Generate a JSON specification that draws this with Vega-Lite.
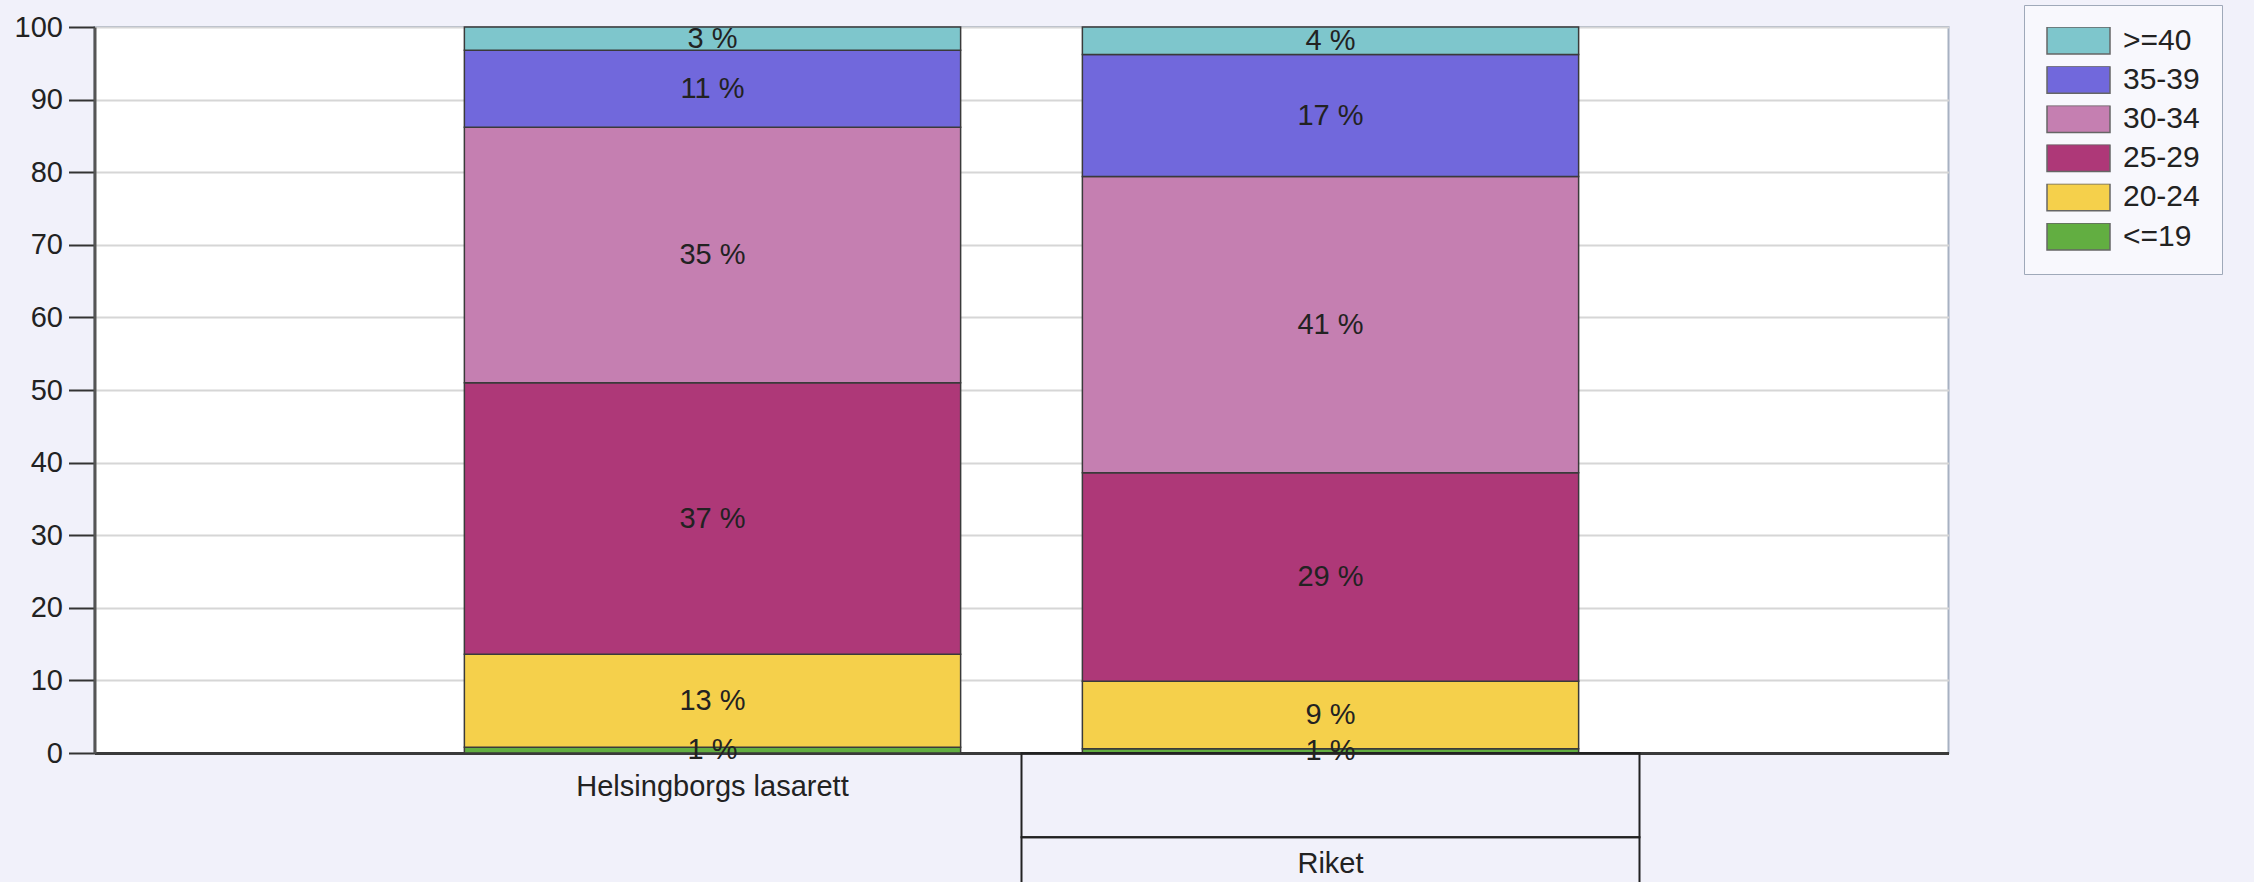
{
  "$schema": "https://vega.github.io/schema/vega-lite/v6.json",
  "width": 1854,
  "height": 726,
  "autosize": {"type": "none"},
  "padding": {"left": 94.5, "top": 27, "right": 305.5, "bottom": 129},
  "background": "#f1f1fa",
  "config": {
    "font": "Liberation Sans",
    "view": {"fill": "white", "stroke": "#a7b1c2", "strokeWidth": 2}
  },
  "data": {
    "values": [
      {"site": "Helsingborgs lasarett", "age": "<=19", "k": 0, "pct": 0.8},
      {"site": "Helsingborgs lasarett", "age": "20-24", "k": 1, "pct": 12.8},
      {"site": "Helsingborgs lasarett", "age": "25-29", "k": 2, "pct": 37.4},
      {"site": "Helsingborgs lasarett", "age": "30-34", "k": 3, "pct": 35.2},
      {"site": "Helsingborgs lasarett", "age": "35-39", "k": 4, "pct": 10.6},
      {"site": "Helsingborgs lasarett", "age": ">=40", "k": 5, "pct": 3.2},
      {"site": "Riket", "age": "<=19", "k": 0, "pct": 0.6},
      {"site": "Riket", "age": "20-24", "k": 1, "pct": 9.3},
      {"site": "Riket", "age": "25-29", "k": 2, "pct": 28.7},
      {"site": "Riket", "age": "30-34", "k": 3, "pct": 40.8},
      {"site": "Riket", "age": "35-39", "k": 4, "pct": 16.8},
      {"site": "Riket", "age": ">=40", "k": 5, "pct": 3.8}
    ]
  },
  "layer": [
    {
      "mark": {"type": "bar", "width": {"band": 0.803}, "stroke": "#3a3a3a", "strokeWidth": 1.5},
      "encoding": {
        "x": {
          "field": "site", "type": "nominal", "sort": ["Helsingborgs lasarett", "Riket"],
          "scale": {"paddingInner": 0, "paddingOuter": 0.5},
          "axis": {
            "title": null, "ticks": false, "grid": false, "domain": true,
            "domainColor": "#3a3a3a", "domainWidth": 3, "labelLimit": 1000,
            "labelFontSize": 29, "labelColor": "#222", "labelAngle": 0, "labelBaseline": "top",
            "labelPadding": {"condition": {"test": "datum.value === 'Riket'", "value": 96}, "value": 19}
          }
        },
        "y": {
          "field": "pct", "type": "quantitative", "stack": "zero",
          "scale": {"domain": [0, 100], "nice": false},
          "axis": {
            "title": null, "values": [0, 10, 20, 30, 40, 50, 60, 70, 80, 90, 100],
            "tickSize": 26, "tickColor": "#333", "tickWidth": 2,
            "domainColor": "#555", "domainWidth": 3,
            "labelFontSize": 29, "labelColor": "#222", "labelPadding": 6,
            "grid": true, "gridColor": "#d6d6d6", "gridWidth": 2
          }
        },
        "color": {
          "field": "age", "type": "nominal",
          "scale": {
            "domain": [">=40", "35-39", "30-34", "25-29", "20-24", "<=19"],
            "range": ["#7ec6cc", "#7168dc", "#c57fb1", "#ae3878", "#f5d04b", "#62ae41"]
          },
          "legend": {
            "title": null, "orient": "none", "legendX": 1929.5, "legendY": -22,
            "padding": 22,
            "symbolType": "M-1,-0.4286L1,-0.4286L1,0.4286L-1,0.4286Z",
            "symbolSize": 3969, "symbolStrokeColor": "#666", "symbolStrokeWidth": 1.5,
            "symbolOpacity": 1, "clipHeight": 27,
            "labelFontSize": 30, "labelColor": "#222", "labelOffset": 12,
            "rowPadding": 8.2,
            "strokeColor": "#9fa9b9", "fillColor": "#f8f8fd"
          }
        },
        "order": {"field": "k", "type": "quantitative"}
      }
    },
    {
      "mark": {"type": "text", "fontSize": 29, "color": "#222", "text": {"expr": "format(datum.pct, 'd') + ' %'"}},
      "encoding": {
        "x": {"field": "site", "type": "nominal", "sort": ["Helsingborgs lasarett", "Riket"]},
        "y": {"field": "pct", "type": "quantitative", "stack": "zero", "bandPosition": 0.5},
        "detail": {"field": "age"},
        "order": {"field": "k", "type": "quantitative"}
      }
    },
    {
      "transform": [{"filter": "datum.site === 'Riket' && datum.k === 0"}],
      "mark": {"type": "bar", "width": {"band": 1}, "fill": null, "fillOpacity": 0, "stroke": "#222", "strokeWidth": 2},
      "encoding": {
        "x": {"field": "site", "type": "nominal", "sort": ["Helsingborgs lasarett", "Riket"]},
        "y": {"datum": 0, "type": "quantitative"},
        "y2": {"datum": -11.6}
      }
    },
    {
      "transform": [{"filter": "datum.site === 'Riket' && datum.k === 0"}],
      "mark": {"type": "bar", "width": {"band": 1}, "fill": null, "fillOpacity": 0, "stroke": "#222", "strokeWidth": 2},
      "encoding": {
        "x": {"field": "site", "type": "nominal", "sort": ["Helsingborgs lasarett", "Riket"]},
        "y": {"datum": -11.6, "type": "quantitative"},
        "y2": {"datum": -19}
      }
    }
  ]
}
